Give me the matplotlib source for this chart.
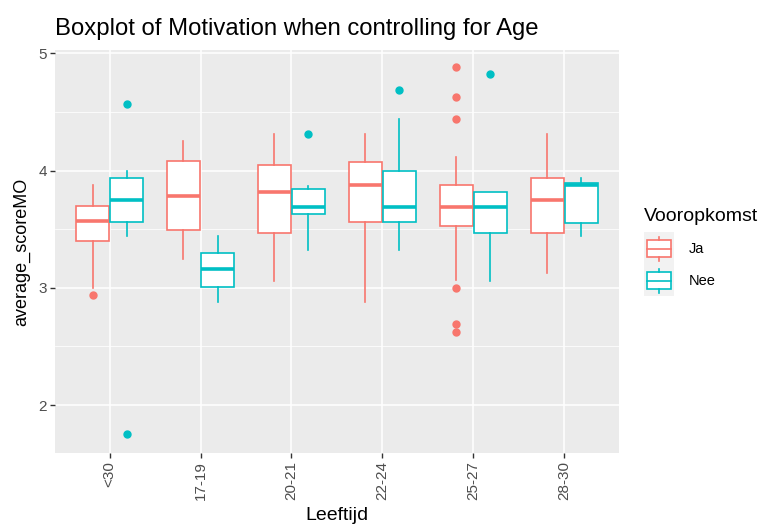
import matplotlib
matplotlib.use("Agg")
import matplotlib.pyplot as plt
from matplotlib.patches import Rectangle
from matplotlib.lines import Line2D
from matplotlib.legend_handler import HandlerBase

# age groups on the x axis
leeftijd = ["<30", "17-19", "20-21", "22-24", "25-27", "28-30"]

# box statistics, one value per age group
ja_whislo = [3.00, 3.25, 3.06, 2.88, 3.07, 3.13]
ja_q1 = [3.40, 3.49, 3.47, 3.56, 3.53, 3.47]
ja_med = [3.57, 3.78, 3.82, 3.88, 3.69, 3.75]
ja_q3 = [3.70, 4.08, 4.05, 4.07, 3.88, 3.94]
ja_whishi = [3.88, 4.25, 4.31, 4.31, 4.12, 4.31]
ja_fliers = [[2.94], [], [], [], [4.88, 4.63, 4.44, 3.00, 2.69, 2.62], []]

nee_whislo = [3.44, 2.88, 3.32, 3.32, 3.06, 3.44]
nee_q1 = [3.56, 3.01, 3.63, 3.56, 3.47, 3.55]
nee_med = [3.75, 3.16, 3.69, 3.69, 3.69, 3.88]
nee_q3 = [3.94, 3.30, 3.84, 4.00, 3.82, 3.89]
nee_whishi = [4.00, 3.44, 3.87, 4.44, 3.82, 3.94]
nee_fliers = [[4.57, 1.75], [], [4.31], [4.69], [4.82], []]

colors = {"Ja": "#F8766D", "Nee": "#00BFC4"}
grey_txt = "#4D4D4D"
plt.rcParams["font.family"] = ["Liberation Sans", "DejaVu Sans"]


def make_stats(lo, q1, med, q3, hi, fl):
  return [dict(whislo=a, q1=b, med=c, q3=d, whishi=e, fliers=f)
          for a, b, c, d, e, f in zip(lo, q1, med, q3, hi, fl)]


def draw_group(ax, stats, offset, col):
  pos = [i + 1 + offset for i in range(len(stats))]
  ax.bxp(stats, positions=pos, widths=0.36, patch_artist=True, showcaps=False,
         boxprops=dict(facecolor="white", edgecolor=col, linewidth=1.2),
         whiskerprops=dict(color=col, linewidth=1.2),
         medianprops=dict(color=col, linewidth=2.6, solid_capstyle="butt"),
         flierprops=dict(marker="o", markerfacecolor=col, markeredgecolor=col,
                         markersize=5), zorder=3)


# legend key drawn like ggplot's boxplot glyph
class BoxHandler(HandlerBase):
  def create_artists(self, legend, orig_handle, xd, yd, width, height, fontsize, trans):
    col = orig_handle.get_color()
    x0, y0 = -xd, -yd
    cx = x0 + width / 2
    bw = width * 0.8
    bg = Rectangle((x0, y0), width, height, facecolor="#F2F2F2", edgecolor="none",
                   transform=trans)
    rect = Rectangle((cx - bw / 2, y0 + height * 0.23), bw, height * 0.52,
                     facecolor="white", edgecolor=col, linewidth=1.2, transform=trans)
    med = Line2D([cx - bw / 2, cx + bw / 2], [y0 + height * 0.49] * 2, color=col,
                 linewidth=1.2, transform=trans)
    w1 = Line2D([cx, cx], [y0 + height * 0.1, y0 + height * 0.23], color=col,
                linewidth=1.2, transform=trans)
    w2 = Line2D([cx, cx], [y0 + height * 0.75, y0 + height * 0.87], color=col,
                linewidth=1.2, transform=trans)
    return [bg, rect, med, w1, w2]


fig = plt.figure(figsize=(7.65, 5.25), dpi=100)
ax = fig.add_axes([0.0719, 0.137, 0.737, 0.768])
ax.set_facecolor("#EBEBEB")

draw_group(ax, make_stats(ja_whislo, ja_q1, ja_med, ja_q3, ja_whishi, ja_fliers), -0.1875, colors["Ja"])
draw_group(ax, make_stats(nee_whislo, nee_q1, nee_med, nee_q3, nee_whishi, nee_fliers), 0.1875, colors["Nee"])

ax.set_xlim(0.4, len(leeftijd) + 0.6)
ax.set_ylim(1.59, 5.03)
ax.set_xticks(range(1, len(leeftijd) + 1))
ax.set_xticklabels(leeftijd, rotation=90, fontsize=11, color=grey_txt)
ax.set_yticks([2, 3, 4, 5])
ax.set_yticklabels(["2", "3", "4", "5"], fontsize=11, color=grey_txt)
ax.set_yticks([2.5, 3.5, 4.5], minor=True)
ax.tick_params(axis="both", which="major", length=3.5, color="#333333", width=1, pad=2.5)
ax.tick_params(axis="y", which="minor", length=0)
ax.grid(True, which="major", color="white", linewidth=1.1, zorder=0)
ax.grid(True, which="minor", axis="y", color="white", linewidth=0.55, zorder=0)
ax.set_axisbelow(True)
for s in ax.spines.values():
  s.set_visible(False)

ax.set_xlabel("Leeftijd", fontsize=14, labelpad=5)
ax.set_ylabel("average_scoreMO", fontsize=13, labelpad=6)
fig.text(0.0719, 0.933, "Boxplot of Motivation when controlling for Age", fontsize=17.2,
         ha="left", va="baseline")

handles = [Line2D([], [], color=colors["Ja"]), Line2D([], [], color=colors["Nee"])]
leg = fig.legend(handles, ["Ja", "Nee"], title="Vooropkomst", loc="upper left",
                 bbox_to_anchor=(0.842, 0.603), frameon=False, fontsize=10.5, title_fontsize=14,
                 handler_map={Line2D: BoxHandler()}, handlelength=2.05, handleheight=3.0,
                 handletextpad=1.0, labelspacing=0.0, borderpad=0, borderaxespad=0)
leg._legend_box.align = "left"
leg._legend_box.sep = 5

fig.savefig("out.png", dpi=100)
